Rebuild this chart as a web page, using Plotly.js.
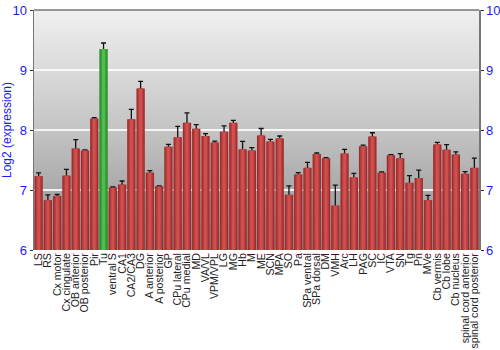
<!DOCTYPE html>
<html>
<head>
<meta charset="utf-8">
<script src="https://cdn.plot.ly/plotly-3.0.1.min.js"></script>
<style>
  html, body { margin: 0; padding: 0; background: #ffffff; }
  #wrap { position: relative; width: 500px; height: 350px; }
  #bg { position: absolute; left: 34px; top: 10px; width: 445px; height: 240px;
        background: linear-gradient(to bottom, #f0f0f0 0%, #c4c4c4 50%, #8e8e8e 100%); }
  #chart { position: absolute; left: 0; top: 0; width: 500px; height: 350px; }
</style>
</head>
<body>
<div id="wrap">
  <div id="bg"></div>
  <div id="chart"></div>
</div>
<script>
const categories = ["LS","RS","Cx motor","Cx cingulate","OB anterior","OB posterior","Pir","Tu",
  "ventral S","CA1","CA2/CA3","DG","A anterior","A posterior","GP","CPu lateral","CPu medial",
  "MD","VA/VL","VPM/VPL","LG","MG","Hb","M","ME","SCN","MPA","SO","Pa","SPa ventral","SPa dorsal",
  "DM","VMH","Arc","LH","PAG","SC","IC","VTA","SN","Tg","Pn","MVe","Cb vermis","Cb lobe",
  "Cb nucleus","spinal cord anterior","spinal cord posterior"];
const values = [7.23,6.83,6.90,7.24,7.69,7.66,8.19,9.35,
  7.04,7.09,8.18,8.69,7.29,7.06,7.72,7.88,8.12,
  8.02,7.90,7.79,7.97,8.12,7.68,7.66,7.91,7.81,7.86,6.92,7.26,7.37,7.60,
  7.53,6.74,7.61,7.21,7.73,7.89,7.29,7.58,7.53,7.12,7.20,6.83,7.76,7.67,
  7.59,7.27,7.37];
const errors = [0.055,0.09,0.025,0.105,0.15,0.01,0.017,0.10,
  0.01,0.06,0.165,0.12,0.033,0.01,0.04,0.18,0.165,
  0.07,0.04,0.025,0.10,0.04,0.13,0.045,0.115,0.035,0.04,0.15,0.03,0.09,0.017,
  0.01,0.34,0.067,0.067,0.017,0.064,0.01,0.01,0.075,0.12,0.13,0.08,0.033,0.086,
  0.047,0.036,0.16];
const highlighted = "Tu";
const yTicks = [6,7,8,9,10];

const palette = {
  normal: ["#9e2c2d", "#ba3d3d", "#cc5150"],
  highlight: ["#2b8a2b", "#3aa63a", "#50be50"]
};
const widths = [0.9, 0.62, 0.3];

function colorsFor(layer) {
  return categories.map(c => c === highlighted ? palette.highlight[layer] : palette.normal[layer]);
}

const traces = widths.map((w, i) => ({
  type: "bar",
  x: categories,
  y: values.map(v => v - 6),
  base: 6,
  width: w,
  marker: { color: colorsFor(i), line: { width: 0 } },
  hoverinfo: "skip",
  showlegend: false,
  error_y: i === 0 ? { type: "data", array: errors, visible: true, color: "#111111", thickness: 1.3, width: 2.5 } : { visible: false }
}));
traces.push({ x: categories, y: values, yaxis: "y2", mode: "none", type: "scatter", hoverinfo: "skip", showlegend: false });

const tickFont = { family: "Liberation Sans, Arial, sans-serif", size: 13, color: "#1a1aff" };

const layout = {
  width: 500, height: 350,
  margin: { l: 34, r: 21, t: 10, b: 100, pad: 0 },
  paper_bgcolor: "rgba(0,0,0,0)",
  plot_bgcolor: "rgba(0,0,0,0)",
  barmode: "overlay",
  xaxis: {
    type: "category",
    tickmode: "array",
    tickvals: categories,
    ticktext: categories,
    tickangle: -90,
    tickfont: { family: "Liberation Sans, Arial, sans-serif", size: 10.6, color: "#222222" },
    showgrid: false, showline: false, ticks: "", zeroline: false,
    range: [-0.5, categories.length - 0.5],
    automargin: false
  },
  yaxis: {
    range: [6, 10], tickvals: yTicks, ticktext: yTicks.map(String),
    tickfont: tickFont, ticks: "outside", ticklen: 3, tickcolor: "#333333",
    showline: true, linecolor: "#777777", linewidth: 1.5,
    showgrid: true, gridcolor: "rgba(255,255,255,0.85)", gridwidth: 1.5,
    zeroline: false, automargin: false,
    title: { text: "Log2 (expression)", font: { family: "Liberation Sans, Arial, sans-serif", size: 12, color: "#1a1aff" }, standoff: 4 }
  },
  yaxis2: {
    overlaying: "y", side: "right", range: [6, 10], tickvals: yTicks, ticktext: yTicks.map(String),
    tickfont: tickFont, ticks: "outside", ticklen: 3, tickcolor: "#333333",
    showline: true, linecolor: "#777777", linewidth: 1.5,
    showgrid: false, zeroline: false, automargin: false
  },
  shapes: [{ type: "line", xref: "paper", yref: "paper", x0: 0, x1: 1, y0: 1, y1: 1, line: { color: "#777777", width: 1.5 } }]
};

Plotly.newPlot("chart", traces, layout, { displayModeBar: false, staticPlot: true });
</script>
</body>
</html>
